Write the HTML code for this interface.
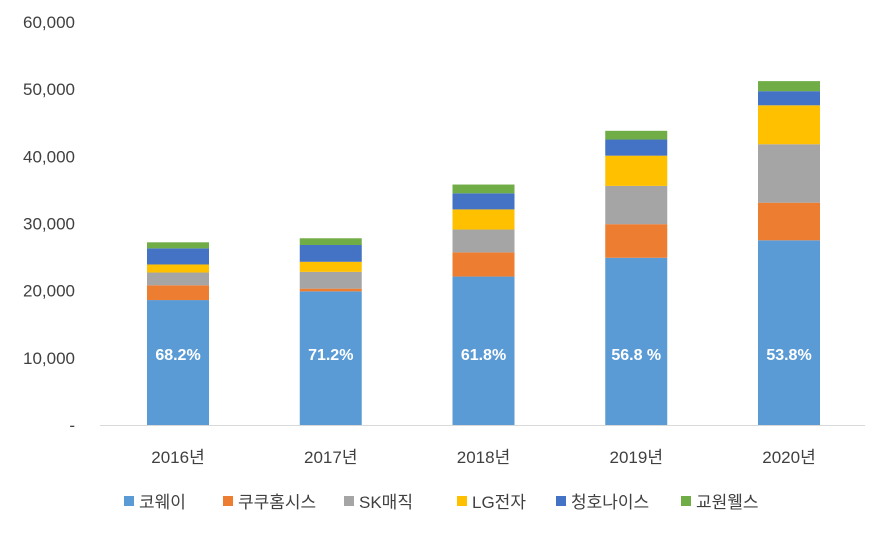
<!DOCTYPE html>
<html><head><meta charset="utf-8"><style>
body{margin:0;background:#fff;font-family:"Liberation Sans","Noto Sans CJK KR",sans-serif}
</style></head><body>
<svg id="chart" width="889" height="534" xmlns="http://www.w3.org/2000/svg" font-family="Liberation Sans, Noto Sans CJK KR, sans-serif"></svg>
<script>
const categories=["2016년","2017년","2018년","2019년","2020년"];
const seriesNames=["코웨이","쿠쿠홈시스","SK매직","LG전자","청호나이스","교원웰스"];
const coway=[18600,19900,22100,24900,27500];
const cuckoo=[2200,400,3600,5000,5600];
const skmagic=[1900,2500,3400,5700,8700];
const lg=[1200,1500,3000,4500,5800];
const chungho=[2400,2500,2400,2400,2100];
const kyowon=[900,1000,1300,1300,1500];
const shareLabels=["68.2%","71.2%","61.8%","56.8 %","53.8%"];
const yTicks=[0,10000,20000,30000,40000,50000,60000];
const yTickLabels=["-","10,000","20,000","30,000","40,000","50,000","60,000"];
const colors=["#5b9bd5","#ed7d31","#a5a5a5","#ffc000","#4472c4","#70ad47"];
const series=[coway,cuckoo,skmagic,lg,chungho,kyowon];
const svg=document.getElementById('chart');const NS="http://www.w3.org/2000/svg";
function mk(t,a,p){const e=document.createElementNS(NS,t);for(const k in a)e.setAttribute(k,a[k]);(p||svg).appendChild(e);return e;}
const y0=425,y1=22,yMax=60000;
const y=v=>y0-(v/yMax)*(y0-y1);
const x=i=>178+i*152.75;
const bw=62;
yTicks.forEach((t,i)=>{const e=mk('text',{x:75,y:y(t)+6,'text-anchor':'end','font-size':17,fill:'#404040'});e.textContent=yTickLabels[i];

});
categories.forEach((c,i)=>{let acc=0;
series.forEach((s,k)=>{const v=s[i];const r=mk('rect',{x:x(i)-bw/2,y:y(acc+v),width:bw,height:y(acc)-y(acc+v),fill:colors[k]});

acc+=v;});
const pl=mk('text',{x:x(i),y:360,'text-anchor':'middle','font-size':16,'font-weight':'bold',fill:'#fff'});pl.textContent=shareLabels[i];


const cl=mk('text',{x:x(i),y:463,'text-anchor':'middle','font-size':17,fill:'#404040'});cl.textContent=c;

});
const ax=mk('line',{x1:100,x2:865,y1:y0+0.5,y2:y0+0.5,stroke:'#d9d9d9','stroke-width':1});


const lx=[124,223,344,457,556,681];
seriesNames.forEach((n,k)=>{const g=mk('g',{});


mk('rect',{x:lx[k],y:496,width:10,height:10,fill:colors[k]},g);
const t=mk('text',{x:lx[k]+15,y:508,'font-size':17,fill:'#404040'},g);t.textContent=n;});
</script>
</body></html>
